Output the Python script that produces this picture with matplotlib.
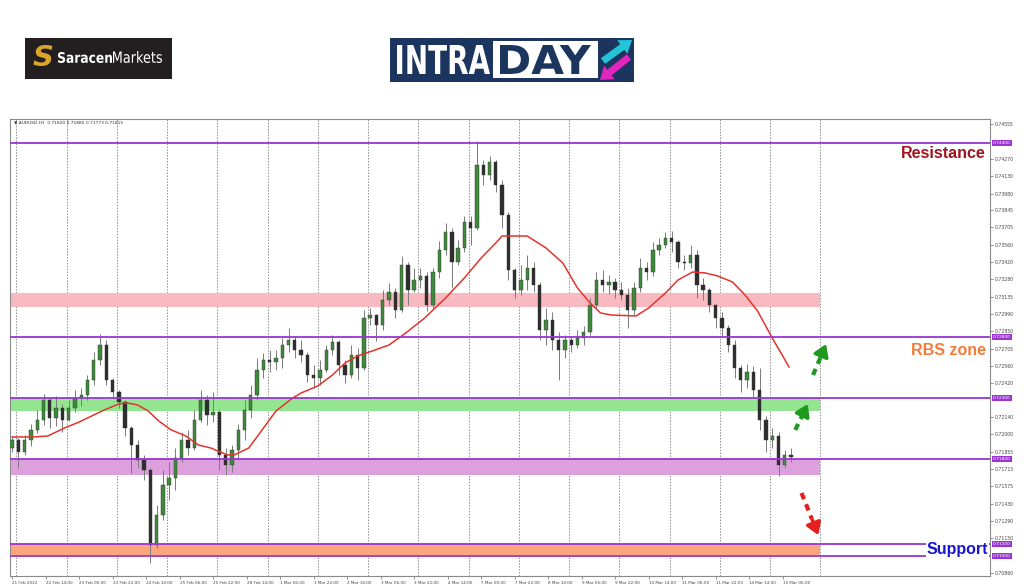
import matplotlib
matplotlib.use('Agg')
import matplotlib.pyplot as plt
import numpy as np
from matplotlib.patches import Rectangle, PathPatch, FancyArrow
from matplotlib.textpath import TextPath
from matplotlib.font_manager import FontProperties
from matplotlib.transforms import Affine2D, blended_transform_factory

# AUDUSD H1 chart, read as 3-hour candles; x = hours since 21 Feb 22:00
hours = list(range(0, 375, 3))
opens = [0.71888, 0.71954, 0.71856, 0.71954, 0.72037, 0.72119, 0.72284, 0.72135, 0.72218, 0.72119,
         0.72218, 0.72300, 0.72325, 0.72448, 0.72613, 0.72736, 0.72448, 0.72349, 0.72267, 0.72053,
         0.71913, 0.71790, 0.71707, 0.71090, 0.71337, 0.71584, 0.71642, 0.71806, 0.71954, 0.71888,
         0.72119, 0.72284, 0.72160, 0.72185, 0.71831, 0.71749, 0.71872, 0.72037, 0.72201, 0.72325,
         0.72530, 0.72613, 0.72596, 0.72629, 0.72736, 0.72777, 0.72695, 0.72654, 0.72489, 0.72465,
         0.72530, 0.72695, 0.72761, 0.72572, 0.72489, 0.72654, 0.72547, 0.72958, 0.72983, 0.72901,
         0.73107, 0.73172, 0.73024, 0.73395, 0.73189, 0.73271, 0.73304, 0.73065, 0.73337, 0.73518,
         0.73666, 0.73419, 0.73534, 0.73748, 0.73699, 0.74218, 0.74135, 0.74242, 0.74053, 0.73806,
         0.73353, 0.73189, 0.73271, 0.73370, 0.73230, 0.72860, 0.72942, 0.72777, 0.72695, 0.72777,
         0.72736, 0.72794, 0.72843, 0.73065, 0.73271, 0.73230, 0.73255, 0.73189, 0.73148, 0.73024,
         0.73205, 0.73370, 0.73337, 0.73518, 0.73559, 0.73617, 0.73584, 0.73419, 0.73410, 0.73477,
         0.73230, 0.73189, 0.73065, 0.72958, 0.72876, 0.72736, 0.72547, 0.72448, 0.72514, 0.72366,
         0.72119, 0.71954, 0.71987, 0.71749, 0.71831]
highs = [0.71987, 0.71971, 0.71995, 0.72086, 0.72201, 0.72333, 0.72300, 0.72316, 0.72251, 0.72284,
         0.72366, 0.72382, 0.72489, 0.72679, 0.72827, 0.72777, 0.72465, 0.72366, 0.72284, 0.72070,
         0.71954, 0.71831, 0.71724, 0.71419, 0.71707, 0.71773, 0.71888, 0.72020, 0.72037, 0.72201,
         0.72366, 0.72325, 0.72349, 0.72201, 0.71888, 0.71913, 0.72086, 0.72284, 0.72407, 0.72629,
         0.72670, 0.72695, 0.72695, 0.72794, 0.72876, 0.72810, 0.72777, 0.72679, 0.72572, 0.72613,
         0.72736, 0.72818, 0.72777, 0.72613, 0.72736, 0.72711, 0.73024, 0.73041, 0.72991, 0.73189,
         0.73246, 0.73205, 0.73469, 0.73419, 0.73370, 0.73370, 0.73337, 0.73370, 0.73592, 0.73740,
         0.73699, 0.73600, 0.73798, 0.73798, 0.74415, 0.74259, 0.74292, 0.74259, 0.74094, 0.73831,
         0.73370, 0.73395, 0.73477, 0.73419, 0.73255, 0.73041, 0.73008, 0.72843, 0.72818, 0.72810,
         0.72860, 0.72893, 0.73123, 0.73337, 0.73353, 0.73312, 0.73288, 0.73255, 0.73205, 0.73255,
         0.73452, 0.73419, 0.73584, 0.73617, 0.73666, 0.73674, 0.73600, 0.73477, 0.73559, 0.73518,
         0.73288, 0.73205, 0.73074, 0.73008, 0.72901, 0.72777, 0.72572, 0.72580, 0.72563, 0.72547,
         0.72152, 0.72053, 0.72020, 0.71872, 0.71885]
lows = [0.71856, 0.71724, 0.71831, 0.71905, 0.72012, 0.72078, 0.72053, 0.72070, 0.72020, 0.72110,
        0.72185, 0.72234, 0.72284, 0.72407, 0.72572, 0.72407, 0.72300, 0.72218, 0.71987, 0.71683,
        0.71724, 0.71625, 0.70942, 0.71066, 0.71296, 0.71461, 0.71543, 0.71773, 0.71831, 0.71872,
        0.72102, 0.72078, 0.72102, 0.71707, 0.71666, 0.71691, 0.71806, 0.71954, 0.72135, 0.72284,
        0.72465, 0.72514, 0.72530, 0.72547, 0.72679, 0.72629, 0.72596, 0.72432, 0.72382, 0.72407,
        0.72514, 0.72654, 0.72489, 0.72423, 0.72465, 0.72448, 0.72530, 0.72901, 0.72769, 0.72860,
        0.73065, 0.72958, 0.73008, 0.73065, 0.73172, 0.73205, 0.73016, 0.73041, 0.73288, 0.73477,
        0.73205, 0.73395, 0.73502, 0.73559, 0.73683, 0.74053, 0.74094, 0.73995, 0.73699, 0.73271,
        0.73123, 0.73148, 0.73189, 0.73172, 0.72777, 0.72736, 0.72695, 0.72448, 0.72629, 0.72679,
        0.72711, 0.72736, 0.72818, 0.73041, 0.73172, 0.73156, 0.73123, 0.73107, 0.72876, 0.72983,
        0.73172, 0.73271, 0.73304, 0.73477, 0.73534, 0.73502, 0.73370, 0.73353, 0.73370, 0.73123,
        0.73107, 0.73008, 0.72876, 0.72810, 0.72679, 0.72465, 0.72349, 0.72382, 0.72300, 0.72037,
        0.71856, 0.71888, 0.71658, 0.71724, 0.71773]
closes = [0.71954, 0.71856, 0.71954, 0.72037, 0.72119, 0.72284, 0.72135, 0.72218, 0.72119, 0.72218,
          0.72300, 0.72325, 0.72448, 0.72613, 0.72736, 0.72448, 0.72349, 0.72267, 0.72053, 0.71913,
          0.71790, 0.71707, 0.71090, 0.71337, 0.71584, 0.71642, 0.71806, 0.71954, 0.71888, 0.72119,
          0.72284, 0.72160, 0.72185, 0.71831, 0.71749, 0.71872, 0.72037, 0.72201, 0.72325, 0.72530,
          0.72613, 0.72596, 0.72629, 0.72736, 0.72777, 0.72695, 0.72654, 0.72489, 0.72465, 0.72530,
          0.72695, 0.72761, 0.72572, 0.72489, 0.72654, 0.72547, 0.72958, 0.72983, 0.72901, 0.73107,
          0.73172, 0.73024, 0.73395, 0.73189, 0.73271, 0.73304, 0.73065, 0.73337, 0.73518, 0.73666,
          0.73419, 0.73534, 0.73748, 0.73699, 0.74218, 0.74135, 0.74242, 0.74053, 0.73806, 0.73353,
          0.73189, 0.73271, 0.73370, 0.73230, 0.72860, 0.72942, 0.72777, 0.72695, 0.72777, 0.72736,
          0.72794, 0.72843, 0.73065, 0.73271, 0.73230, 0.73255, 0.73189, 0.73148, 0.73024, 0.73205,
          0.73370, 0.73337, 0.73518, 0.73559, 0.73617, 0.73584, 0.73419, 0.73410, 0.73477, 0.73230,
          0.73189, 0.73065, 0.72958, 0.72876, 0.72736, 0.72547, 0.72448, 0.72514, 0.72366, 0.72119,
          0.71954, 0.71987, 0.71749, 0.71831, 0.71815]

# moving average line (red)
ma_hours = [0, 10, 17, 25, 32, 38, 44, 51, 55, 60, 65, 70, 76, 83, 89, 95, 97, 103, 106, 113,
            119, 126, 134, 138, 146, 153, 159, 165, 172, 180, 188, 197, 207, 216, 224, 231, 234, 246,
            255, 263, 270, 276, 281, 286, 298, 304, 312, 318, 325, 331, 337, 344, 350, 356, 363, 368, 371]
ma_values = [0.71979, 0.71979, 0.71987, 0.72053, 0.72102, 0.72152, 0.72201, 0.72251, 0.72259, 0.72242,
             0.72193, 0.72111, 0.72037, 0.71987, 0.71913, 0.71888, 0.71872, 0.71831, 0.71831, 0.71888,
             0.72028, 0.72193, 0.72300, 0.72341, 0.72399, 0.72489, 0.72588, 0.72646, 0.72687, 0.72736,
             0.72835, 0.72958, 0.73123, 0.73288, 0.73452, 0.73576, 0.73633, 0.73633, 0.73534, 0.73411,
             0.73205, 0.73082, 0.73000, 0.72983, 0.72975, 0.73041, 0.73164, 0.73271, 0.73337, 0.73329,
             0.73304, 0.73255, 0.73148, 0.73016, 0.72794, 0.72646, 0.72555]

level_prices = [0.7440, 0.7280, 0.7230, 0.7180, 0.7110, 0.7100]
zone_low = [0.7305, 0.7219, 0.7167, 0.7101]
zone_high = [0.7316, 0.7230, 0.7180, 0.7110]
zone_colors = ['#f9b9c0', '#93e68f', '#dca0dc', '#fba57d']

x_labels = ['21 Feb 2022', '22 Feb 14:00', '23 Feb 06:00', '23 Feb 22:00', '24 Feb 14:00',
            '25 Feb 06:00', '25 Feb 22:00', '28 Feb 14:00', '1 Mar 06:00', '1 Mar 22:00',
            '2 Mar 14:00', '3 Mar 06:00', '3 Mar 22:00', '4 Mar 14:00', '7 Mar 06:00',
            '7 Mar 22:00', '8 Mar 14:00', '9 Mar 06:00', '9 Mar 22:00', '10 Mar 14:00',
            '11 Mar 06:00', '11 Mar 22:00', '14 Mar 14:00', '15 Mar 06:00']
y_ticks = [0.74555, 0.74270, 0.74130, 0.73980, 0.73845, 0.73705, 0.73560, 0.73420, 0.73280,
           0.73135, 0.72990, 0.72850, 0.72705, 0.72560, 0.72420, 0.72140, 0.72000, 0.71855,
           0.71715, 0.71575, 0.71430, 0.71290, 0.71150, 0.70860]

fig = plt.figure(figsize=(10.24, 5.87), dpi=100)
fig.patch.set_facecolor('white')
ax = fig.add_axes([10 / 1024, 11 / 587, 980 / 1024, 457 / 587])

# zones stop at the last day separator
zone_end = 386
for lo, hi, col in zip(zone_low, zone_high, zone_colors):
    ax.fill_between([-2, zone_end], lo, hi, color=col, lw=0, zorder=1)

# day separators
for h in range(2, 387, 24):
    ax.axvline(h, color='#8f8f8f', lw=0.7, ls=(0, (1.5, 1.5)), zorder=0.5)

# candles
o = np.array(opens)
c = np.array(closes)
body_col = np.where(c >= o, '#3f8a3c', '#2e2e2e')
ax.vlines(hours, lows, highs, color='#7a7a7a', lw=0.7, zorder=3)
ax.bar(hours, np.maximum(np.abs(c - o), 0.00003), bottom=np.minimum(o, c), width=1.6,
       color=body_col, edgecolor='#333333', lw=0.3, zorder=4)

ax.plot(ma_hours, ma_values, color='#e3342d', lw=1.1, zorder=5)

for p in level_prices:
    ax.axhline(p, color='#9a35d2', lw=1.3, zorder=6)

ax.set_xlim(-1, 467)
ax.set_ylim(0.70835, 0.74596)

ax.set_xticks([16 * k for k in range(len(x_labels))])
ax.set_xticklabels(x_labels, fontsize=3.0, color='#444444', ha='left')
ax.tick_params(axis='x', length=2, width=0.5, pad=1.5, color='#666666')
ax.yaxis.tick_right()
ax.set_yticks(y_ticks)
ax.set_yticklabels([f'{v:.5f}' for v in y_ticks], fontsize=3.3, color='#444444')
ax.tick_params(axis='y', length=2, width=0.5, pad=1.5, color='#666666')
for s in ax.spines.values():
    s.set_color('#8a8a8a')
    s.set_linewidth(0.8)

right = blended_transform_factory(ax.transAxes, ax.transData)
for p in level_prices:
    ax.text(1.003, p, f'{p:.5f}', transform=right, fontsize=3.2, color='white', va='center',
            ha='left', clip_on=False, zorder=10,
            bbox=dict(boxstyle='square,pad=0.2', fc='#9a35d2', ec='none'))

ax.text(0.004, 0.996, '\u25bc AUDUSD,H1  0.71820 0.71885 0.71773 0.71815', transform=ax.transAxes,
        fontsize=3.2, color='#333333', va='top', ha='left')

ax.text(0.996, 0.74316, 'Resistance', transform=right, ha='right', va='center',
        fontsize=11.5, fontweight='bold', family='Liberation Sans', color='#a1121f', zorder=8)
ax.text(0.996, 0.72687, 'RBS zone', transform=right, ha='right', va='center',
        fontsize=11.5, fontweight='bold', family='Liberation Sans', color='#f27b3a', zorder=8)
ax.text(0.998, 0.71049, 'Support', transform=right, ha='right', va='center',
        fontsize=11.5, fontweight='bold', family='Liberation Sans', color='#1616cc', zorder=8,
        bbox=dict(boxstyle='square,pad=0.05', fc='white', ec='none'))

# dashed direction arrows
arrows = [((374, 0.72037), (380, 0.72251), '#1f9a1f'),
          ((382.5, 0.72489), (388.7, 0.72744), '#1f9a1f'),
          ((377, 0.71518), (385, 0.71172), '#e3201b')]
for (x0, y0), (x1, y1), col in arrows:
    xm, ym = x0 + 0.6 * (x1 - x0), y0 + 0.6 * (y1 - y0)
    ax.plot([x0, xm], [y0, ym], color=col, lw=3, ls=(0, (1.6, 1.3)), solid_capstyle='butt',
            zorder=9, clip_on=False)
    ax.annotate('', xy=(x1, y1), xytext=(xm, ym), zorder=9,
                arrowprops=dict(arrowstyle='-|>,head_length=0.7,head_width=0.45', color=col,
                                lw=2.5, mutation_scale=10, shrinkA=0, shrinkB=0))

# logos, drawn in image pixel coordinates
top = fig.add_axes([0, 0, 1, 1])
top.set_xlim(0, 1024)
top.set_ylim(587, 0)
top.axis('off')
top.patch.set_alpha(0)


def path_text(s, x0, x1, y_top, y_bot, color, weight='bold', family='DejaVu Sans'):
    tp = TextPath((0, 0), s, size=10, prop=FontProperties(family=family, weight=weight))
    bb = tp.get_extents()
    tr = Affine2D().translate(-bb.x0, -bb.y0).scale((x1 - x0) / bb.width, -(y_bot - y_top) / bb.height)
    tr = tr.translate(x0, y_bot)
    top.add_patch(PathPatch(tp, transform=tr + top.transData, fc=color, ec='none'))


top.add_patch(Rectangle((25, 38), 147, 41, fc='#231f20', ec='none'))
top.text(43, 58, 'S', fontsize=21, fontweight='bold', style='italic', color='#d9a52b',
         ha='center', va='center')
path_text('Saracen', 58, 112, 52, 63, 'white', 'bold')
path_text('Markets', 113, 162, 51, 63, 'white', 'normal')

top.add_patch(Rectangle((390, 38), 244, 44, fc='#1c355e', ec='none'))
path_text('INTRA', 397, 490, 45, 74, 'white', 'bold')
top.add_patch(Rectangle((493, 41), 105, 37, fc='white', ec='none'))
path_text('DAY', 500, 591, 45, 74, '#1c355e', 'bold')
top.add_patch(FancyArrow(603, 61, 29, -21, width=7, head_width=17, head_length=12,
                         length_includes_head=True, fc='#23c3d8', ec='none'))
top.add_patch(FancyArrow(629, 57, -29, 23, width=7, head_width=17, head_length=12,
                         length_includes_head=True, fc='#e424be', ec='none'))

fig.savefig('out.png', dpi=100)
